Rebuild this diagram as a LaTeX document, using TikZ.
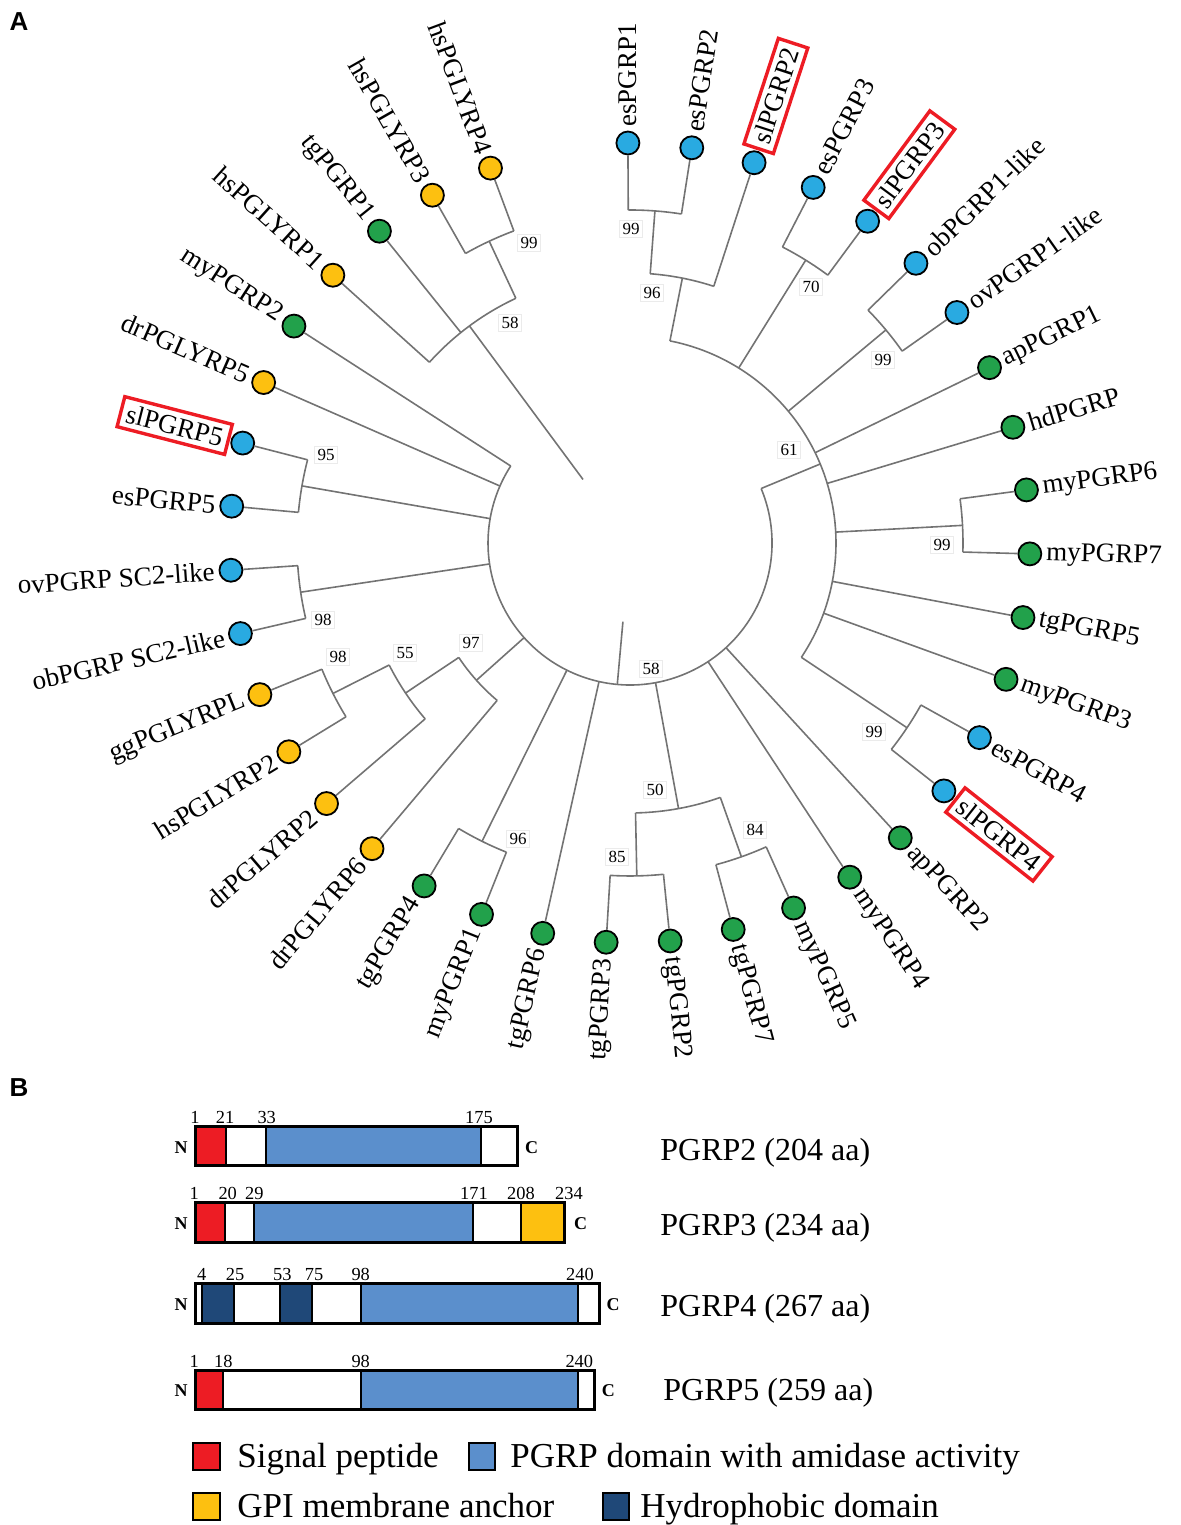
\documentclass[tikz,border=0pt]{standalone}
\usepackage{fontspec}
\setmainfont{Liberation Serif}
\newfontfamily\panelfont{Liberation Sans}
\definecolor{cblue}{RGB}{41,170,225}
\definecolor{cgreen}{RGB}{34,161,75}
\definecolor{cyellow}{RGB}{253,192,16}
\definecolor{cred}{RGB}{237,28,36}
\definecolor{dblue}{RGB}{91,143,204}
\definecolor{dnavy}{RGB}{31,72,120}
\definecolor{boxred}{RGB}{237,28,36}
\newcommand{\tarc}[3]{\draw[br] (#1:#3) arc[start angle=#1, end angle=#2, radius=#3];}
\begin{document}
\begin{tikzpicture}[x=0.5pt,y=0.5pt,
  br/.style={draw=black!55, line width=0.8pt},
  leafdot/.style={circle, draw=black, line width=0.9pt, minimum size=11.5pt, inner sep=0pt},
  leaflab/.style={font=\fontsize{13.5}{15}\selectfont, inner sep=1.5pt},
  boxlab/.style={leaflab, draw=boxred, line width=1.7pt, inner sep=3pt},
  bs/.style={font=\fontsize{8.5}{10}\selectfont, fill=white, draw=black!8, inner sep=1.5pt},
  segd/.style={draw=black, line width=1.1pt},
  barout/.style={draw=black, line width=1.5pt},
  num/.style={font=\fontsize{9.2}{10}\selectfont, inner sep=0pt, anchor=base},
  nc/.style={font=\bfseries\fontsize{9}{10}\selectfont, inner sep=0pt},
  plab/.style={font=\fontsize{16}{18}\selectfont, inner sep=0pt, anchor=base west},
  leg/.style={font=\fontsize{17.5}{20}\selectfont, inner sep=0pt, anchor=base west},
  legsq/.style={draw=black, line width=1.2pt},
  panel/.style={font=\panelfont\bfseries\fontsize{13}{14}\selectfont, inner sep=0pt}]
\useasboundingbox (0,0) rectangle (1181,1525);

\node[panel] (pA) at (19,1503) {A};
\node[panel] (pB) at (19,437) {B};

% ---------------- tree ----------------
\begin{scope}[shift={(630,982)}]
\foreach \i/\txt/\col/\sty in {
 0/esPGRP1/cblue/leaflab,
 1/esPGRP2/cblue/leaflab,
 2/slPGRP2/cblue/boxlab,
 3/esPGRP3/cblue/leaflab,
 4/slPGRP3/cblue/boxlab,
 5/obPGRP1-like/cblue/leaflab,
 6/ovPGRP1-like/cblue/leaflab,
 7/apPGRP1/cgreen/leaflab,
 8/hdPGRP/cgreen/leaflab,
 9/myPGRP6/cgreen/leaflab,
 10/myPGRP7/cgreen/leaflab,
 11/tgPGRP5/cgreen/leaflab,
 12/myPGRP3/cgreen/leaflab,
 13/esPGRP4/cblue/leaflab,
 14/slPGRP4/cblue/boxlab,
 15/apPGRP2/cgreen/leaflab,
 16/myPGRP4/cgreen/leaflab,
 17/myPGRP5/cgreen/leaflab,
 18/tgPGRP7/cgreen/leaflab,
 19/tgPGRP2/cgreen/leaflab,
 20/tgPGRP3/cgreen/leaflab,
 21/tgPGRP6/cgreen/leaflab,
 22/myPGRP1/cgreen/leaflab,
 23/tgPGRP4/cgreen/leaflab,
 24/drPGLYRP6/cyellow/leaflab,
 25/drPGLYRP2/cyellow/leaflab,
 26/hsPGLYRP2/cyellow/leaflab,
 27/ggPGLYRPL/cyellow/leaflab,
 28/obPGRP SC2-like/cblue/leaflab,
 29/ovPGRP SC2-like/cblue/leaflab,
 30/esPGRP5/cblue/leaflab,
 31/slPGRP5/cblue/boxlab,
 32/drPGLYRP5/cyellow/leaflab,
 33/myPGRP2/cgreen/leaflab,
 34/hsPGLYRP1/cyellow/leaflab,
 35/tgPGRP1/cgreen/leaflab,
 36/hsPGLYRP3/cyellow/leaflab,
 37/hsPGLYRP4/cyellow/leaflab}{
  \pgfmathsetmacro{\ang}{90.3-9.186*\i}
  \pgfmathsetmacro{\cosv}{cos(\ang)}
  \node[leafdot, fill=\col] (l\i) at (\ang:400) {};
  \ifdim \cosv pt>-0.05pt
    \node[\sty, anchor=west, rotate=\ang] (t\i) at (\ang:413) {\txt};
  \else
    \pgfmathsetmacro{\angb}{\ang+180}
    \node[\sty, anchor=east, rotate=\angb] (t\i) at (\ang:413) {\txt};
  \fi
}

\coordinate (root1) at (-95.142:79);
\coordinate (root2) at (-233.507:79);
\coordinate (NB) at (-95.142:142);
\coordinate (N61) at (22.554:206);
\coordinate (N96) at (78.818:270);
\coordinate (N99a) at (85.707:333);
\coordinate (N70) at (58.149:333);
\coordinate (N99b) at (39.777:333);
\coordinate (N99c) at (3.033:333);
\coordinate (N99d) at (-33.711:333);
\coordinate (N50) at (-79.641:270);
\coordinate (N84) at (-70.455:333);
\coordinate (N85) at (-88.827:333);
\coordinate (N96b) at (-116.385:333);
\coordinate (N97) at (-138.202:206);
\coordinate (N55) at (-146.2395:270);
\coordinate (N98a) at (-153.129:333);
\coordinate (N98b) at (-171.501:333);
\coordinate (N95) at (-189.873:333);
\coordinate (N58) at (-233.507:270);
\coordinate (N99e) at (-244.989:333);

\draw[br] (root1) -- (NB);
\draw[br] (root2) -- (N58);
% big node
\tarc{22.554}{-212.838}{142}
\draw[br] (22.554:142) -- (N61);
\draw[br] (-47.49:142) -- (l15);
\draw[br] (-56.676:142) -- (l16);
\draw[br] (-79.641:142) -- (N50);
\draw[br] (-102.606:142) -- (l21);
\draw[br] (-116.385:142) -- (N96b);
\draw[br] (-138.202:142) -- (N97);
\draw[br] (-171.501:142) -- (N98b);
\draw[br] (-189.873:142) -- (N95);
\draw[br] (-203.652:142) -- (l32);
\draw[br] (-212.838:142) -- (l33);
% N61
\tarc{78.818}{-33.711}{206}
\draw[br] (78.818:206) -- (N96);
\draw[br] (58.149:206) -- (N70);
\draw[br] (39.777:206) -- (N99b);
\draw[br] (25.998:206) -- (l7);
\draw[br] (16.812:206) -- (l8);
\draw[br] (3.033:206) -- (N99c);
\draw[br] (-10.746:206) -- (l11);
\draw[br] (-19.932:206) -- (l12);
\draw[br] (-33.711:206) -- (N99d);
% N96
\tarc{85.707}{71.928}{270}
\draw[br] (85.707:270) -- (N99a);
\draw[br] (71.928:270) -- (l2);
% N99a
\tarc{90.3}{81.114}{333}
\draw[br] (90.3:333) -- (l0);
\draw[br] (81.114:333) -- (l1);
% N70
\tarc{62.742}{53.556}{333}
\draw[br] (62.742:333) -- (l3);
\draw[br] (53.556:333) -- (l4);
% N99b
\tarc{44.37}{35.184}{333}
\draw[br] (44.37:333) -- (l5);
\draw[br] (35.184:333) -- (l6);
% N99c
\tarc{7.626}{-1.56}{333}
\draw[br] (7.626:333) -- (l9);
\draw[br] (-1.56:333) -- (l10);
% N99d
\tarc{-29.118}{-38.304}{333}
\draw[br] (-29.118:333) -- (l13);
\draw[br] (-38.304:333) -- (l14);
% N50
\tarc{-70.455}{-88.827}{270}
\draw[br] (-70.455:270) -- (N84);
\draw[br] (-88.827:270) -- (N85);
% N84
\tarc{-65.862}{-75.048}{333}
\draw[br] (-65.862:333) -- (l17);
\draw[br] (-75.048:333) -- (l18);
% N85
\tarc{-84.234}{-93.42}{333}
\draw[br] (-84.234:333) -- (l19);
\draw[br] (-93.42:333) -- (l20);
% N96b
\tarc{-111.792}{-120.978}{333}
\draw[br] (-111.792:333) -- (l22);
\draw[br] (-120.978:333) -- (l23);
% N97
\tarc{-130.164}{-146.2395}{206}
\draw[br] (-130.164:206) -- (l24);
\draw[br] (-146.2395:206) -- (N55);
% N55
\tarc{-139.35}{-153.129}{270}
\draw[br] (-139.35:270) -- (l25);
\draw[br] (-153.129:270) -- (N98a);
% N98a
\tarc{-148.536}{-157.722}{333}
\draw[br] (-148.536:333) -- (l26);
\draw[br] (-157.722:333) -- (l27);
% N98b
\tarc{-166.908}{-176.094}{333}
\draw[br] (-166.908:333) -- (l28);
\draw[br] (-176.094:333) -- (l29);
% N95
\tarc{-185.28}{-194.466}{333}
\draw[br] (-185.28:333) -- (l30);
\draw[br] (-194.466:333) -- (l31);
% N58
\tarc{-222.024}{-244.989}{270}
\draw[br] (-222.024:270) -- (l34);
\draw[br] (-231.21:270) -- (l35);
\draw[br] (-244.989:270) -- (N99e);
% N99e
\tarc{-240.396}{-249.582}{333}
\draw[br] (-240.396:333) -- (l36);
\draw[br] (-249.582:333) -- (l37);
\end{scope}

% bootstrap values
\foreach \x/\y/\t [count=\k] in {631/229/99, 652/293/96, 529/243/99, 510/323/58, 811/287/70,
  883/360/99, 789/450/61, 942/545/99, 326/455/95, 323/620/98, 338/657/98, 405/653/55,
  471/643/97, 651/669/58, 655/790/50, 617/857/85, 755/830/84, 518/839/96, 874/732/99}
  \node[bs] (bs\k) at (\x,{1525-\y}) {\t};

% ---------------- part B ----------------
% row 1
\draw[segd, fill=cred] (195,359) rectangle (226,398);
\draw[segd, fill=white] (226,359) rectangle (266,398);
\draw[segd, fill=dblue] (266,359) rectangle (481,398);
\draw[segd, fill=white] (481,359) rectangle (517.7,398);
\draw[barout] (195,359) rectangle (517.7,398);
\node[num] (a1) at (195,401) {1};
\node[num] (a2) at (225,401) {21};
\node[num] (a3) at (266.7,401) {33};
\node[num] (a4) at (479,401) {175};
\node[nc] (aN) at (181,377) {N};
\node[nc] (aC) at (531.7,377) {C};
\node[plab] (aL) at (660,364) {PGRP2 (204 aa)};
% row 2
\draw[segd, fill=cred] (195,282) rectangle (225.3,322);
\draw[segd, fill=white] (225.3,282) rectangle (254,322);
\draw[segd, fill=dblue] (254,282) rectangle (473.3,322);
\draw[segd, fill=white] (473.3,282) rectangle (521,322);
\draw[segd, fill=cyellow] (521,282) rectangle (564,322);
\draw[barout] (195,282) rectangle (564,322);
\node[num] (b1) at (194.3,325) {1};
\node[num] (b2) at (227.7,325) {20};
\node[num] (b3) at (254.3,325) {29};
\node[num] (b4) at (474,325) {171};
\node[num] (b5) at (521,325) {208};
\node[num] (b6) at (569,325) {234};
\node[nc] (bN) at (181,301) {N};
\node[nc] (bC) at (580.7,301) {C};
\node[plab] (bL) at (660,289) {PGRP3 (234 aa)};
% row 3
\draw[segd, fill=white] (195,201) rectangle (202.3,241);
\draw[segd, fill=dnavy] (202.3,201) rectangle (234.3,241);
\draw[segd, fill=white] (234.3,201) rectangle (280,241);
\draw[segd, fill=dnavy] (280,201) rectangle (312.3,241);
\draw[segd, fill=white] (312.3,201) rectangle (360.7,241);
\draw[segd, fill=dblue] (360.7,201) rectangle (578.3,241);
\draw[segd, fill=white] (578.3,201) rectangle (599.3,241);
\draw[barout] (195,201) rectangle (599.3,241);
\node[num] (c1) at (201.7,244) {4};
\node[num] (c2) at (235,244) {25};
\node[num] (c3) at (282.3,244) {53};
\node[num] (c4) at (314,244) {75};
\node[num] (c5) at (360.7,244) {98};
\node[num] (c6) at (580,244) {240};
\node[nc] (cN) at (181,220) {N};
\node[nc] (cC) at (613,220) {C};
\node[plab] (cL) at (660,208) {PGRP4 (267 aa)};
% row 4
\draw[segd, fill=cred] (195,115) rectangle (222.7,154);
\draw[segd, fill=white] (222.7,115) rectangle (360.7,154);
\draw[segd, fill=dblue] (360.7,115) rectangle (578.3,154);
\draw[segd, fill=white] (578.3,115) rectangle (594,154);
\draw[barout] (195,115) rectangle (594,154);
\node[num] (d1) at (194.3,157) {1};
\node[num] (d2) at (223.3,157) {18};
\node[num] (d3) at (360.7,157) {98};
\node[num] (d4) at (579.3,157) {240};
\node[nc] (dN) at (181,134) {N};
\node[nc] (dC) at (608.3,134) {C};
\node[plab] (dL) at (663,124) {PGRP5 (259 aa)};

% legend
\draw[legsq, fill=cred] (193,55) rectangle (220,82);
\node[leg] (lg1) at (237,57) {Signal peptide};
\draw[legsq, fill=dblue] (469,55) rectangle (495,82);
\node[leg] (lg2) at (510,57) {PGRP domain with amidase activity};
\draw[legsq, fill=cyellow] (193,5) rectangle (220,32);
\node[leg] (lg3) at (237,7) {GPI membrane anchor};
\draw[legsq, fill=dnavy] (603,5) rectangle (629,32);
\node[leg] (lg4) at (640,7) {Hydrophobic domain};
\end{tikzpicture}
\end{document}
